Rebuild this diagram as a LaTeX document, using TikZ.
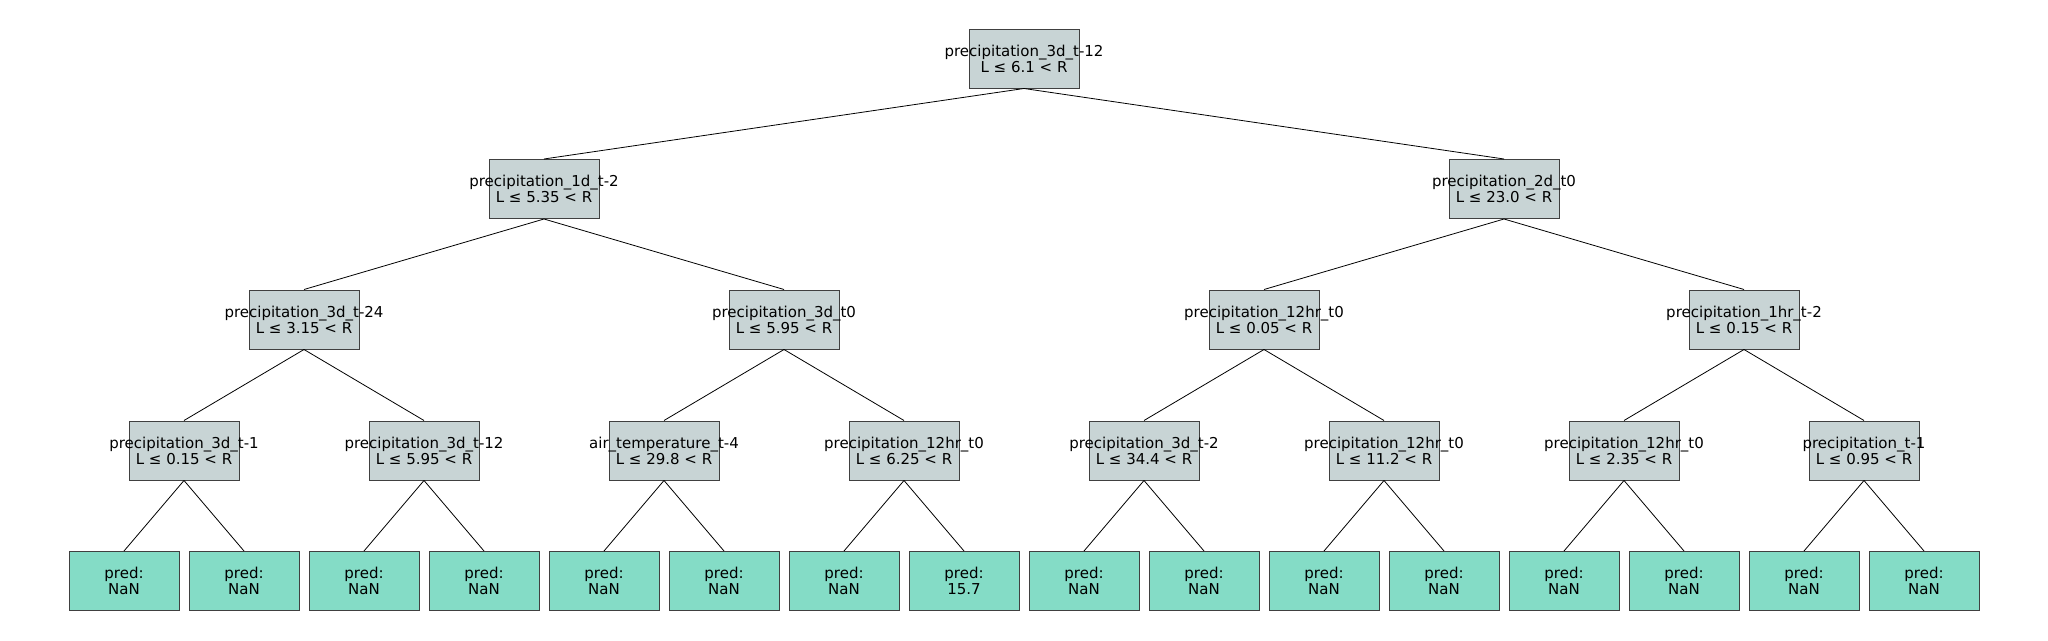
\documentclass[tikz,border=0pt]{standalone}
\usepackage{fontspec}
\setmainfont{DejaVu Sans}
\definecolor{splitfill}{HTML}{C8D4D5}
\definecolor{leaffill}{HTML}{84DCC6}
\definecolor{boxline}{HTML}{404040}
\tikzset{
  x=1pt, y=-1pt,
  boxbase/.style={rectangle, draw=boxline, line width=1pt, minimum width=110pt, minimum height=59pt, inner sep=0pt},
  split/.style={boxbase, fill=splitfill},
  leaf/.style={boxbase, fill=leaffill},
  lbl/.style={align=center, inner sep=0pt, font=\fontsize{15}{16}\selectfont, text=black},
  edge/.style={draw=black, line width=0.8pt}
}
\begin{document}
\begin{tikzpicture}
\useasboundingbox (0,0) rectangle (2048,640);
% level y centres
\def\ya{58.5}
\def\yb{189}
\def\yc{319.5}
\def\yd{450.5}
\def\ye{581}
% root
\node[split] (r) at (1024,\ya) {};
% level 1
\node[split] (a) at (544,\yb) {};
\node[split] (b) at (1504,\yb) {};
% level 2
\node[split] (aa) at (304,\yc) {};
\node[split] (ab) at (784,\yc) {};
\node[split] (ba) at (1264,\yc) {};
\node[split] (bb) at (1744,\yc) {};
% level 3
\node[split] (c1) at (184,\yd) {};
\node[split] (c2) at (424,\yd) {};
\node[split] (c3) at (664,\yd) {};
\node[split] (c4) at (904,\yd) {};
\node[split] (c5) at (1144,\yd) {};
\node[split] (c6) at (1384,\yd) {};
\node[split] (c7) at (1624,\yd) {};
\node[split] (c8) at (1864,\yd) {};
% leaves
\foreach \i in {1,...,16} {
  \node[leaf] (l\i) at ({124+120*(\i-1)},\ye) {};
}
% edges
\draw[edge] (r.south) -- (a.north);
\draw[edge] (r.south) -- (b.north);
\draw[edge] (a.south) -- (aa.north);
\draw[edge] (a.south) -- (ab.north);
\draw[edge] (b.south) -- (ba.north);
\draw[edge] (b.south) -- (bb.north);
\draw[edge] (aa.south) -- (c1.north);
\draw[edge] (aa.south) -- (c2.north);
\draw[edge] (ab.south) -- (c3.north);
\draw[edge] (ab.south) -- (c4.north);
\draw[edge] (ba.south) -- (c5.north);
\draw[edge] (ba.south) -- (c6.north);
\draw[edge] (bb.south) -- (c7.north);
\draw[edge] (bb.south) -- (c8.north);
\foreach \p/\l/\rr in {c1/1/2, c2/3/4, c3/5/6, c4/7/8, c5/9/10, c6/11/12, c7/13/14, c8/15/16} {
  \draw[edge] (\p.south) -- (l\l.north);
  \draw[edge] (\p.south) -- (l\rr.north);
}
% labels
\node[lbl] (rt) at (r) {precipitation\_3d\_t-12\\L ≤ 6.1 < R};
\node[lbl] (at) at (a) {precipitation\_1d\_t-2\\L ≤ 5.35 < R};
\node[lbl] (bt) at (b) {precipitation\_2d\_t0\\L ≤ 23.0 < R};
\node[lbl] (aat) at (aa) {precipitation\_3d\_t-24\\L ≤ 3.15 < R};
\node[lbl] (abt) at (ab) {precipitation\_3d\_t0\\L ≤ 5.95 < R};
\node[lbl] (bat) at (ba) {precipitation\_12hr\_t0\\L ≤ 0.05 < R};
\node[lbl] (bbt) at (bb) {precipitation\_1hr\_t-2\\L ≤ 0.15 < R};
\node[lbl] (c1t) at (c1) {precipitation\_3d\_t-1\\L ≤ 0.15 < R};
\node[lbl] (c2t) at (c2) {precipitation\_3d\_t-12\\L ≤ 5.95 < R};
\node[lbl] (c3t) at (c3) {air\_temperature\_t-4\\L ≤ 29.8 < R};
\node[lbl] (c4t) at (c4) {precipitation\_12hr\_t0\\L ≤ 6.25 < R};
\node[lbl] (c5t) at (c5) {precipitation\_3d\_t-2\\L ≤ 34.4 < R};
\node[lbl] (c6t) at (c6) {precipitation\_12hr\_t0\\L ≤ 11.2 < R};
\node[lbl] (c7t) at (c7) {precipitation\_12hr\_t0\\L ≤ 2.35 < R};
\node[lbl] (c8t) at (c8) {precipitation\_t-1\\L ≤ 0.95 < R};
\foreach \i in {1,...,16} {
  \ifnum\i=8
    \node[lbl] (l\i t) at (l\i) {pred:\\15.7};
  \else
    \node[lbl] (l\i t) at (l\i) {pred:\\NaN};
  \fi
}
\end{tikzpicture}
\end{document}
